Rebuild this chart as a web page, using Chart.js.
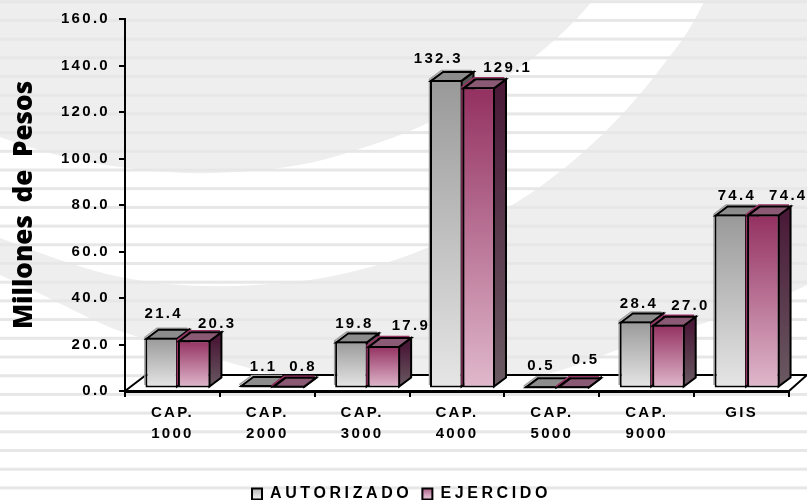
<!DOCTYPE html>
<html><head><meta charset="utf-8">
<style>html,body{margin:0;padding:0;background:#fff}canvas{display:block}</style>
<script src="https://cdn.jsdelivr.net/npm/chart.js@4/dist/chart.umd.min.js"></script>
</head><body>
<canvas id="c" width="807" height="500" style="width:807px;height:500px"></canvas>
<script>
const categories = ['CAP. 1000','CAP. 2000','CAP. 3000','CAP. 4000','CAP. 5000','CAP. 9000','GIS'];
const autorizado = [21.4,1.1,19.8,132.3,0.5,28.4,74.4];
const ejercido   = [20.3,0.8,17.9,129.1,0.5,27.0,74.4];
const seriesNames = ['AUTORIZADO','EJERCIDO'];
const yTitle = 'Millones de Pesos';

// hand placement of the value labels relative to each bar
const labelDx = [[1,6,2,-9,-1,2,5],[22,13,26,28,11,21,24]];
const labelDy = [[-24,-18,-18,-21,-20,-18,-19],[-16,-19,-20,-19,-26,-19,-19]];

// 3D look
const DEPTH_X = 12, DEPTH_Y = 9, BAR_SHIFT = 5.5, TEXT_GAP = '2.3px', LEGEND_GAP = '3.6px';
const styles = [
  {top:'#999999',bottom:'#e6e6e6',cap:'#8c8c8c',sideTop:'#555555',sideBottom:'#6e6e6e',edge:'#a0a0a0'},
  {top:'#933060',bottom:'#e0b8cc',cap:'#8a5a75',sideTop:'#4a1a38',sideBottom:'#6a5a62',edge:'#993366'}
];

// background artwork outlines
const bandUpper = [[0,137],[50,155],[120,168],[200,175],[300,167],[367,147],[420,128],[480,95],[535,57],[557,38],[577,19],[593,0]];
const bandLower = [[705,0],[690,30],[667,60],[640,95],[603,135],[563,170],[515,205],[420,253],[350,273],[300,282],[210,288],[127,280],[67,263],[0,238]];
const greyLower = [[0,275],[33,290],[93,320],[123,333],[220,360],[300,382],[430,392],[530,380],[593,360],[620,348],[700,325],[792,293],[807,285]];

function curve(ctx, pts, move){
  if (move) ctx.moveTo(pts[0][0],pts[0][1]); else ctx.lineTo(pts[0][0],pts[0][1]);
  for (let i=1;i<pts.length-1;i++){
    const mx=(pts[i][0]+pts[i+1][0])/2, my=(pts[i][1]+pts[i+1][1])/2;
    ctx.quadraticCurveTo(pts[i][0],pts[i][1],mx,my);
  }
  const l=pts[pts.length-1]; ctx.lineTo(l[0],l[1]);
}
function barGradient(ctx, s, top, bottom){
  const g=ctx.createLinearGradient(0,top,0,bottom);
  g.addColorStop(0,s.top); g.addColorStop(1,s.bottom);
  return g;
}
function fillFor(i){
  return c=>{
    const ch=c.chart, sc=ch.scales.yb;
    if(!sc||c.parsed===undefined||c.parsed===null) return styles[i].top;
    return barGradient(ch.ctx,styles[i],sc.getPixelForValue(c.parsed.y),sc.getPixelForValue(0));
  };
}
function face(ctx,pts,fill){
  ctx.beginPath();
  pts.forEach((p,i)=>i?ctx.lineTo(p[0],p[1]):ctx.moveTo(p[0],p[1]));
  ctx.closePath();
  ctx.fillStyle=fill; ctx.fill();
  ctx.lineWidth=2; ctx.strokeStyle='#000'; ctx.lineJoin='miter'; ctx.stroke();
}
function drawExtrusion(chart,i){
  const ctx=chart.ctx, s=styles[i], meta=chart.getDatasetMeta(i);
  meta.data.forEach(b=>{
    const l=b.x-b.width/2+1, r=b.x+b.width/2-1, t=b.y+1, bt=b.base-1;
    ctx.beginPath();
    ctx.moveTo(l-1.5,bt-1.5); ctx.lineTo(l-1.5,t-1.5); ctx.lineTo(l+DEPTH_X-1.5,t-DEPTH_Y-1.5); ctx.lineTo(r+DEPTH_X-1.5,t-DEPTH_Y-1.5);
    ctx.strokeStyle=s.edge; ctx.lineWidth=1.5; ctx.stroke();
    const g=ctx.createLinearGradient(0,t,0,bt);
    g.addColorStop(0,s.sideTop); g.addColorStop(1,s.sideBottom);
    face(ctx,[[r,t],[r+DEPTH_X,t-DEPTH_Y],[r+DEPTH_X,bt-DEPTH_Y],[r,bt]],g);
    face(ctx,[[l,t],[l+DEPTH_X,t-DEPTH_Y],[r+DEPTH_X,t-DEPTH_Y],[r,t]],s.cap);
  });
}

const deco = {
  id:'deco',
  beforeUpdate(chart){ chart.ctx.letterSpacing=TEXT_GAP; },
  beforeLayout(chart){
    const lg=chart.legend;
    if(lg && !lg._wrapped){
      lg._wrapped=true;
      const f=lg.fit.bind(lg), d=lg.draw.bind(lg), ctx=chart.ctx;
      lg.fit=function(){ ctx.letterSpacing=LEGEND_GAP; f(); ctx.letterSpacing=TEXT_GAP; this.height=24; };
      lg.draw=function(){ ctx.save(); ctx.translate(7,0); ctx.letterSpacing=LEGEND_GAP; d(); ctx.restore(); };
    }
  },
  afterLayout(chart){
    const y=chart.scales.y;
    if(!y._wrapped){
      y._wrapped=true;
      const t=y.drawTitle.bind(y), ctx=chart.ctx;
      y.drawTitle=function(){ ctx.save(); ctx.letterSpacing='0px'; ctx.wordSpacing='6px'; t(); ctx.restore(); };
    }
  },
  beforeDraw(chart){
    const ctx=chart.ctx, W=chart.width, H=chart.height;
    ctx.letterSpacing=TEXT_GAP;
    ctx.save();
    ctx.fillStyle='#ffffff'; ctx.fillRect(0,0,W,H);
    ctx.beginPath(); ctx.moveTo(0,0); ctx.lineTo(W,0); ctx.lineTo(W,greyLower[greyLower.length-1][1]);
    curve(ctx,greyLower.slice().reverse(),false);
    ctx.closePath(); ctx.fillStyle='#eeeeee'; ctx.fill();
    ctx.beginPath(); curve(ctx,bandUpper,true); curve(ctx,bandLower,false); ctx.closePath();
    ctx.fillStyle='#ffffff'; ctx.fill();
    ctx.fillStyle='#e7e7e7';
    for(let y=1.7;y<H;y+=18.7) ctx.fillRect(0,y-1.5,W,3);
    const a=chart.chartArea, backY=a.bottom-16, dx=21;
    ctx.beginPath(); ctx.moveTo(a.left,a.bottom); ctx.lineTo(a.left+dx,backY); ctx.lineTo(W,backY); ctx.lineTo(a.right,a.bottom); ctx.closePath();
    ctx.fillStyle='#ffffff'; ctx.fill();
    ctx.strokeStyle='#000'; ctx.lineWidth=2;
    ctx.beginPath(); ctx.moveTo(a.left,a.bottom); ctx.lineTo(a.left+dx,backY);
    ctx.moveTo(a.left+dx,backY); ctx.lineTo(W,backY);
    ctx.moveTo(a.right,a.bottom); ctx.lineTo(a.right+18,backY);
    ctx.stroke();
    ctx.restore();
  },
  // Series are painted left to right so the nearer bar covers the side of its neighbour.
  beforeDatasetsDraw(chart){
    const ctx=chart.ctx;
    ctx.save();
    ctx.translate(BAR_SHIFT,0);
    [0,1].forEach(i=>{
      drawExtrusion(chart,i);
      chart.getDatasetMeta(i).controller.draw();
    });
    ctx.restore();
    ctx.save();
    ctx.letterSpacing=TEXT_GAP;
    ctx.font='bold 15px "Liberation Sans"';
    ctx.fillStyle='#000'; ctx.textAlign='center'; ctx.textBaseline='middle';
    [autorizado,ejercido].forEach((vals,i)=>{
      chart.getDatasetMeta(i).data.forEach((b,k)=>{
        ctx.fillText(vals[k].toFixed(1), b.x+BAR_SHIFT+labelDx[i][k]+1, b.y+labelDy[i][k]);
      });
    });
    ctx.restore();
    return false;
  }
};

const canvas=document.getElementById('c');
const ctx0=canvas.getContext('2d');
function legendFill(i){
  const g=ctx0.createLinearGradient(0,484,0,497);
  g.addColorStop(0,styles[i].top); g.addColorStop(1,styles[i].bottom);
  return g;
}
const chart=new Chart(canvas,{
  type:'bar',
  data:{labels:categories,datasets:[
    {label:seriesNames[0],data:autorizado,yAxisID:'yb',clip:false,backgroundColor:fillFor(0),borderColor:'#000',borderWidth:2,borderSkipped:false,categoryPercentage:0.685,barPercentage:1},
    {label:seriesNames[1],data:ejercido,yAxisID:'yb',clip:false,backgroundColor:fillFor(1),borderColor:'#000',borderWidth:2,borderSkipped:false,categoryPercentage:0.685,barPercentage:1}
  ]},
  plugins:[deco],
  options:{
    responsive:false,animation:false,
    layout:{padding:{top:19,right:18,left:0,bottom:0}},
    plugins:{
      tooltip:{enabled:false},
      legend:{position:'bottom',labels:{
        boxWidth:10,boxHeight:11,padding:10,color:'#000',
        font:{family:'"Liberation Sans"',weight:'bold',size:16},
        generateLabels:()=>seriesNames.map((n,i)=>({text:n,fillStyle:legendFill(i),strokeStyle:'#000',lineWidth:2,datasetIndex:i,hidden:false}))
      }}
    },
    scales:{
      x:{
        grid:{drawOnChartArea:false,drawTicks:true,tickLength:6,color:'#000',lineWidth:2},
        border:{color:'#000',width:3},
        ticks:{
          autoSkip:false,maxRotation:0,minRotation:0,padding:5,color:'#000',
          font:{family:'"Liberation Sans"',weight:'bold',size:15,lineHeight:1.4},
          callback(v){ return this.getLabelForValue(v).split(' '); }
        },
        afterFit(s){ s.height=85; }
      },
      y:{
        min:0,max:160,
        grid:{drawOnChartArea:false,tickLength:6,color:'#000',lineWidth:2},
        border:{color:'#000',width:2},
        ticks:{stepSize:20,padding:9,color:'#000',
          font:{family:'"Liberation Sans"',weight:'bold',size:15},
          callback:v=>v.toFixed(1)},
        title:{display:true,text:yTitle,color:'#000',padding:{top:9,bottom:0},
          font:{family:'"Open Sans"',weight:800,size:26}},
        afterFit(s){ s.width=125; }
      },
      yb:{display:false,min:-1.5,max:158.5}
    }
  }
});
</script>
</body></html>
